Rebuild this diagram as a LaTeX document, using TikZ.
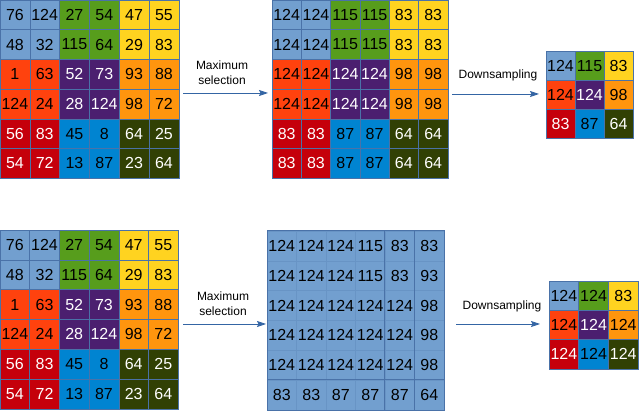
\documentclass[tikz,border=0pt]{standalone}
\usepackage{fontspec}
\setmainfont{Liberation Sans}
\usetikzlibrary{arrows.meta}
\definecolor{c00}{HTML}{729FCF}
\definecolor{c01}{HTML}{579D1C}
\definecolor{c02}{HTML}{FFD320}
\definecolor{c10}{HTML}{FF420E}
\definecolor{c11}{HTML}{4B1F6F}
\definecolor{c12}{HTML}{FF950E}
\definecolor{c20}{HTML}{C5000B}
\definecolor{c21}{HTML}{0084D1}
\definecolor{c22}{HTML}{314004}
\colorlet{t00}{black}\colorlet{t01}{black}\colorlet{t02}{black}
\colorlet{t10}{black}\colorlet{t11}{white}\colorlet{t12}{black}
\colorlet{t20}{white}\colorlet{t21}{black}\colorlet{t22}{white}
\definecolor{gridc}{HTML}{4A72A8}
\definecolor{arrc}{HTML}{3465A4}
\tikzset{
  cell/.style={draw=gridc, line width=0.5pt, inner sep=0pt, font=\fontsize{16}{16}\selectfont},
  faintcell/.style={draw=gridc!25!c00, line width=0.5pt, fill=c00, inner sep=0pt, font=\fontsize{16}{16}\selectfont},
  arr/.style={draw=arrc, line width=0.8pt, -{Stealth[length=9pt,width=6pt,inset=1.5pt]}},
  lbl/.style={align=center, font=\fontsize{12}{15}\selectfont, inner sep=0pt}
}
% #1 name, #2 x0, #3 y0, #4 w, #5 h, #6 block divisor, #7 rows
\newcommand\mkgrid[7]{%
  \foreach \row [count=\r from 0] in {#7} {
    \foreach \v [count=\c from 0] in \row {
      \pgfmathtruncatemacro\br{int(\r/#6)}
      \pgfmathtruncatemacro\bc{int(\c/#6)}
      \node[cell, fill=c\br\bc, text=t\br\bc, minimum width=#4pt, minimum height=#5pt]
        (#1-\r-\c) at ({#2+(\c+0.5)*#4},{#3+(\r+0.5)*#5}) {\v};
    }
  }
}
\begin{document}
\begin{tikzpicture}[x=1pt,y=-1pt]
\useasboundingbox (0,0) rectangle (640,411);
% top row
\mkgrid{A}{0}{0}{29.8}{29.7}{2}{{76,124,27,54,47,55},{48,32,115,64,29,83},{1,63,52,73,93,88},{124,24,28,124,98,72},{56,83,45,8,64,25},{54,72,13,87,23,64}}
\mkgrid{B}{272}{0}{29.3}{29.7}{2}{{124,124,115,115,83,83},{124,124,115,115,83,83},{124,124,124,124,98,98},{124,124,124,124,98,98},{83,83,87,87,64,64},{83,83,87,87,64,64}}
\mkgrid{C}{546}{51}{29}{29.2}{1}{{124,115,83},{124,124,98},{83,87,64}}
% bottom row
\mkgrid{D}{0}{230}{29.7}{29.8}{2}{{76,124,27,54,47,55},{48,32,115,64,29,83},{1,63,52,73,93,88},{124,24,28,124,98,72},{56,83,45,8,64,25},{54,72,13,87,23,64}}
\foreach \row [count=\r from 0] in {{124,124,124,115,83,83},{124,124,124,115,83,93},{124,124,124,124,124,98},{124,124,124,124,124,98},{124,124,124,124,124,98},{83,83,87,87,87,64}} {
  \foreach \v [count=\c from 0] in \row {
    \node[faintcell, minimum width=29.5pt, minimum height=29.8pt] (E-\r-\c) at ({267+(\c+0.5)*29.5},{231+(\r+0.5)*29.8}) {\v};
  }
}
\draw[gridc, line width=0.5pt] (E-0-0.north west) rectangle (E-5-5.south east);
\draw[gridc, line width=0.6pt] (E-0-4.north west) -- (E-5-4.south west);
\draw[gridc, line width=0.6pt] (E-0-5.north west) -- (E-5-5.south west);
\draw[gridc, line width=0.6pt] (E-5-0.north west) -- (E-5-5.north east);
\mkgrid{F}{549}{281}{29.7}{29.3}{1}{{124,124,83},{124,124,124},{124,124,124}}
% arrows and labels
\coordinate (a1s) at (183,93);  \coordinate (a1e) at (268,93);
\coordinate (a2s) at (452,94);  \coordinate (a2e) at (539,94);
\coordinate (a3s) at (183,324); \coordinate (a3e) at (266,324);
\coordinate (a4s) at (456,324); \coordinate (a4e) at (540,324);
\draw[arr] (a1s) -- (a1e);
\draw[arr] (a2s) -- (a2e);
\draw[arr] (a3s) -- (a3e);
\draw[arr] (a4s) -- (a4e);
\node[lbl] (l1) at (222,72.5) {Maximum\\selection};
\node[lbl] (l2) at (498,75) {Downsampling};
\node[lbl] (l3) at (223,303.5) {Maximum\\selection};
\node[lbl] (l4) at (502,306) {Downsampling};
\end{tikzpicture}
\end{document}
